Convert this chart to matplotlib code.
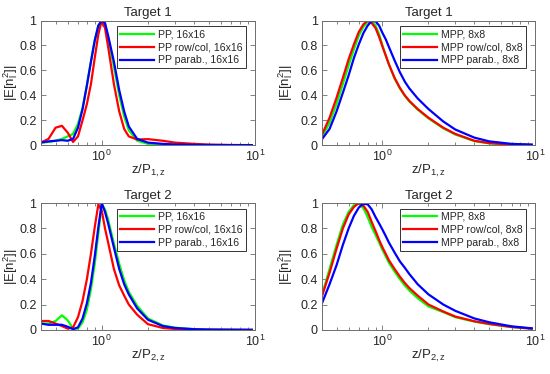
import matplotlib
matplotlib.use("Agg")
import matplotlib.pyplot as plt
from matplotlib.ticker import LogLocator, NullFormatter, FixedLocator, FuncFormatter

# common sampling of z/P
z = [0.4, 0.45, 0.5, 0.55, 0.6, 0.65, 0.7, 0.75, 0.8, 0.85, 0.9, 0.95, 1.0, 1.05,
     1.1, 1.2, 1.3, 1.4, 1.5, 1.7, 2.0, 2.5, 3.0, 4.0, 5.0, 7.0, 9.5]

# Target 1, PP 16x16
t1_pp = [0.02, 0.025, 0.035, 0.05, 0.07, 0.09, 0.17, 0.30, 0.48, 0.67, 0.84, 0.96, 1.0, 0.97,
         0.86, 0.63, 0.40, 0.23, 0.12, 0.035, 0.01, 0.005, 0.002, 0.001, 0.0, 0.0, 0.0]
t1_pp_rc = [0.02, 0.05, 0.14, 0.155, 0.10, 0.025, 0.07, 0.20, 0.33, 0.49, 0.70, 0.89, 1.0, 0.94,
            0.79, 0.49, 0.27, 0.13, 0.07, 0.045, 0.048, 0.035, 0.02, 0.01, 0.004, 0.001, 0.0]
t1_pp_pb = [0.02, 0.03, 0.035, 0.04, 0.035, 0.05, 0.14, 0.29, 0.48, 0.67, 0.84, 0.96, 1.0, 0.98,
            0.88, 0.67, 0.44, 0.27, 0.15, 0.05, 0.02, 0.01, 0.005, 0.002, 0.001, 0.0, 0.0]

# Target 1, MPP 8x8
t1_mpp = [0.06, 0.18, 0.33, 0.49, 0.64, 0.77, 0.88, 0.95, 0.99, 1.0, 0.96, 0.89, 0.80, 0.72,
          0.65, 0.535, 0.455, 0.395, 0.35, 0.285, 0.215, 0.135, 0.085, 0.032, 0.014, 0.004, 0.001]
t1_mpp_rc = [0.08, 0.22, 0.38, 0.54, 0.69, 0.81, 0.91, 0.97, 1.0, 0.98, 0.94, 0.87, 0.79, 0.72,
             0.65, 0.54, 0.46, 0.40, 0.355, 0.29, 0.22, 0.14, 0.09, 0.035, 0.016, 0.005, 0.002]
t1_mpp_pb = [0.045, 0.13, 0.27, 0.42, 0.56, 0.70, 0.81, 0.90, 0.96, 0.995, 0.995, 0.96, 0.90, 0.85,
             0.79, 0.68, 0.585, 0.51, 0.455, 0.375, 0.29, 0.19, 0.125, 0.06, 0.03, 0.01, 0.004]

# Target 2, PP 16x16
t2_pp = [0.05, 0.05, 0.07, 0.115, 0.075, 0.01, 0.01, 0.06, 0.16, 0.32, 0.52, 0.76, 0.99, 0.95,
         0.87, 0.68, 0.52, 0.39, 0.30, 0.19, 0.09, 0.035, 0.017, 0.006, 0.002, 0.001, 0.0]
t2_pp_rc = [0.07, 0.07, 0.05, 0.03, 0.01, 0.02, 0.10, 0.23, 0.40, 0.60, 0.81, 0.99, 0.94, 0.80,
            0.69, 0.48, 0.35, 0.27, 0.20, 0.12, 0.045, 0.015, 0.007, 0.002, 0.001, 0.0, 0.0]
t2_pp_pb = [0.05, 0.04, 0.04, 0.04, 0.025, 0.005, 0.02, 0.09, 0.21, 0.37, 0.58, 0.81, 1.0, 0.93,
            0.84, 0.65, 0.48, 0.36, 0.28, 0.17, 0.08, 0.03, 0.015, 0.005, 0.002, 0.001, 0.0]

# Target 2, MPP 8x8
t2_mpp = [0.27, 0.48, 0.67, 0.83, 0.93, 0.985, 0.995, 0.96, 0.89, 0.81, 0.75, 0.69, 0.63, 0.58,
          0.53, 0.46, 0.40, 0.35, 0.31, 0.25, 0.185, 0.14, 0.10, 0.065, 0.045, 0.022, 0.01]
t2_mpp_rc = [0.26, 0.45, 0.64, 0.80, 0.91, 0.97, 1.0, 0.98, 0.93, 0.85, 0.78, 0.71, 0.65, 0.60,
             0.55, 0.48, 0.42, 0.37, 0.33, 0.27, 0.20, 0.145, 0.105, 0.068, 0.047, 0.023, 0.01]
t2_mpp_pb = [0.205, 0.36, 0.51, 0.67, 0.80, 0.90, 0.965, 0.995, 0.99, 0.95, 0.89, 0.84, 0.79, 0.74,
             0.69, 0.61, 0.54, 0.49, 0.44, 0.36, 0.28, 0.20, 0.15, 0.09, 0.06, 0.028, 0.012]

panels = [
    ("Target 1", r"z/P$_{\mathrm{1,z}}$", "PP", "16x16", (t1_pp, t1_pp_rc, t1_pp_pb)),
    ("Target 1", r"z/P$_{\mathrm{1,z}}$", "MPP", "8x8", (t1_mpp, t1_mpp_rc, t1_mpp_pb)),
    ("Target 2", r"z/P$_{\mathrm{2,z}}$", "PP", "16x16", (t2_pp, t2_pp_rc, t2_pp_pb)),
    ("Target 2", r"z/P$_{\mathrm{2,z}}$", "MPP", "8x8", (t2_mpp, t2_mpp_rc, t2_mpp_pb)),
]
positions = [
    [0.074, 0.612, 0.390, 0.333],
    [0.585, 0.612, 0.388, 0.333],
    [0.074, 0.118, 0.390, 0.339],
    [0.585, 0.118, 0.388, 0.339],
]
ylab_x = [-0.095, -0.125, -0.095, -0.125]

txt = "#262626"
edge = "#6e6e6e"
plt.rcParams["font.family"] = ["Liberation Sans", "DejaVu Sans"]
plt.rcParams["mathtext.fontset"] = "custom"
plt.rcParams["mathtext.rm"] = "Liberation Sans"
plt.rcParams["mathtext.it"] = "Liberation Sans"
plt.rcParams["mathtext.bf"] = "Liberation Sans:bold"

fig = plt.figure(figsize=(5.5, 3.74), dpi=100)
for (title, xlab, meth, size, ys), pos, lx in zip(panels, positions, ylab_x):
    ax = fig.add_axes(pos)
    ax.plot(z, ys[0], color=(0, 1, 0), lw=1.6, label="%s, %s" % (meth, size))
    ax.plot(z, ys[1], color=(1, 0, 0), lw=1.6, label="%s row/col, %s" % (meth, size))
    ax.plot(z, ys[2], color=(0, 0, 1), lw=1.6, label="%s parab., %s" % (meth, size))
    ax.set_xscale("log")
    ax.set_xlim(0.4, 10)
    ax.set_ylim(0, 1)
    ax.xaxis.set_major_locator(FixedLocator([1, 10]))
    ax.xaxis.set_minor_locator(LogLocator(base=10, subs=range(2, 10)))
    ax.xaxis.set_minor_formatter(NullFormatter())
    ax.yaxis.set_major_locator(FixedLocator([0, 0.2, 0.4, 0.6, 0.8, 1.0]))
    ax.yaxis.set_major_formatter(FuncFormatter(lambda v, p: "%g" % v))
    ax.tick_params(which="both", direction="in", top=True, right=True,
                   colors=edge, labelcolor=txt, labelsize=9, width=0.6)
    ax.tick_params(which="major", length=3.5, pad=3)
    ax.tick_params(which="minor", length=2)
    for s in ax.spines.values():
        s.set_color(edge)
        s.set_linewidth(0.7)
    ax.set_title(title, fontsize=9.5, color=txt, pad=3)
    ax.set_xlabel(xlab, fontsize=9.5, color=txt, labelpad=-1)
    ax.set_ylabel(r"|E[n$_l^2$]|", fontsize=9.5, color=txt)
    ax.yaxis.set_label_coords(lx, 0.5)
    leg = ax.legend(loc="upper right", bbox_to_anchor=(0.955, 0.955), borderaxespad=0,
                    fontsize=7.6, frameon=True, fancybox=False, framealpha=1,
                    handlelength=3.2, handletextpad=0.35, labelspacing=0.28,
                    borderpad=0.3)
    leg.get_frame().set_edgecolor("#333333")
    leg.get_frame().set_linewidth(0.7)
    for t in leg.get_texts():
        t.set_color(txt)

fig.savefig("out.png", dpi=100)
